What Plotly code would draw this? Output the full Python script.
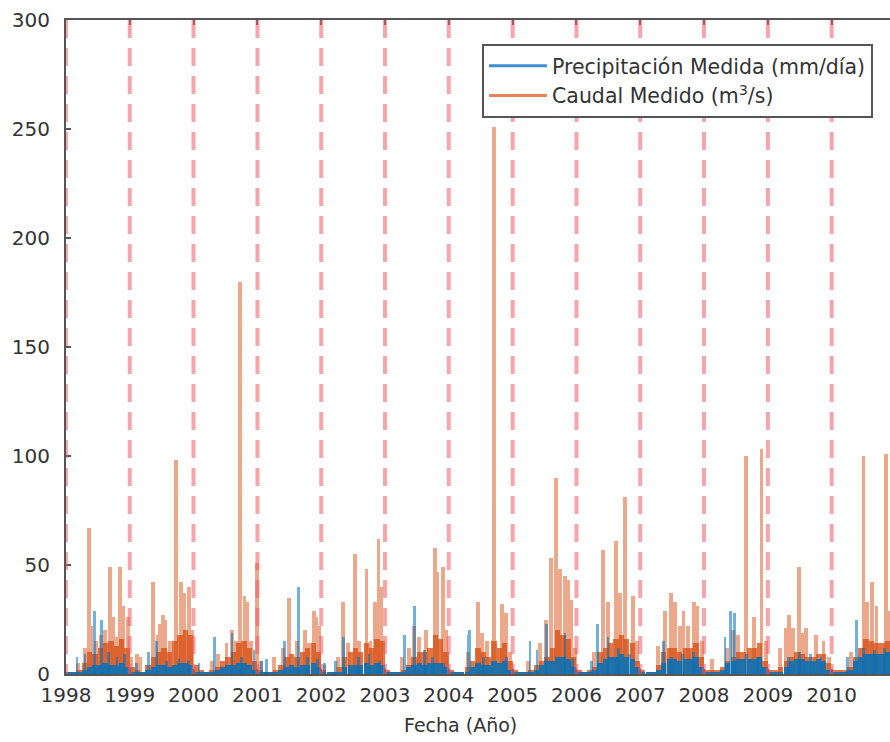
import plotly.graph_objects as go
import pandas as pd

# ---------------- data ----------------
anios = list(range(1998, 2011))
etiquetas_anios = [str(a) for a in anios]

# Caudal medido (m3/s): picos diarios destacados
caudal_pico_fechas = [
    "1998-03-10", "1998-04-20", "1998-05-15", "1998-05-25", "1998-06-20", "1998-07-20", "1998-08-10",
    "1998-09-10", "1998-09-25", "1998-10-15", "1998-11-06", "1998-11-25", "1998-12-20", "1999-01-10",
    "1999-02-10", "1999-03-01",
    "1999-05-12", "1999-06-10", "1999-06-22", "1999-07-08", "1999-07-25", "1999-08-20", "1999-09-25",
    "1999-10-22", "1999-11-10", "1999-12-05", "1999-12-25",
    "2000-04-15", "2000-05-20", "2000-07-08", "2000-08-08", "2000-08-30", "2000-09-24", "2000-10-19",
    "2000-11-05", "2000-11-25", "2000-12-28", "2001-01-20",
    "2001-04-05", "2001-05-25", "2001-07-01", "2001-08-15", "2001-10-01", "2001-10-25", "2001-11-20",
    "2001-12-05", "2001-12-20", "2002-01-20",
    "2002-04-05", "2002-05-08", "2002-06-01", "2002-07-13", "2002-08-05", "2002-09-17", "2002-10-10",
    "2002-11-03", "2002-11-25", "2002-12-10",
    "2003-04-10", "2003-05-20", "2003-06-15", "2003-07-15", "2003-08-25", "2003-10-12", "2003-10-25",
    "2003-11-28", "2003-12-15",
    "2004-04-20", "2004-06-17", "2004-07-10", "2004-08-05", "2004-09-16", "2004-10-30", "2004-11-25",
    "2004-12-15",
    "2005-04-01", "2005-06-05", "2005-07-10", "2005-08-08", "2005-09-06", "2005-09-28", "2005-10-27",
    "2005-11-15", "2005-12-03", "2005-12-25",
    "2006-04-10", "2006-06-02", "2006-07-02", "2006-08-15", "2006-09-05", "2006-10-05", "2006-11-22",
    "2006-12-15",
    "2007-04-12", "2007-05-22", "2007-06-28", "2007-07-20", "2007-08-15", "2007-09-06", "2007-10-01",
    "2007-11-03", "2007-11-22", "2007-12-20",
    "2008-02-18", "2008-05-10", "2008-06-15", "2008-07-15", "2008-08-29", "2008-10-12", "2008-11-25",
    "2008-12-20",
    "2009-03-10", "2009-04-12", "2009-05-01", "2009-05-26", "2009-06-28", "2009-07-20", "2009-08-08",
    "2009-10-01", "2009-11-15", "2009-12-15",
    "2010-04-20", "2010-07-02", "2010-07-20", "2010-08-22", "2010-09-15", "2010-11-06", "2010-11-25",
]
caudal_pico_valores = [
    5, 12, 67, 22, 15, 18, 20,
    49, 26, 17, 49, 31, 26, 8,
    9, 8,
    42, 18, 23, 27, 25, 15, 98,
    42, 37, 40, 20,
    6, 9, 14, 20, 15, 180, 36,
    33, 15, 51, 6,
    8, 12, 35, 15, 20, 14, 29,
    26, 22, 4,
    8, 33, 14, 55, 15, 48, 15,
    33, 62, 40,
    8, 12, 22, 17, 20, 58, 47,
    49, 20,
    10, 33, 19, 15, 251, 32, 28,
    10,
    6, 14, 25, 53, 90, 48, 45,
    43, 34, 12,
    10, 57, 33, 61, 37, 81, 36,
    15,
    13, 29, 37, 33, 22, 29, 22,
    33, 31, 15,
    7, 12, 20, 18, 100, 26, 103,
    15,
    12, 21, 27, 21, 49, 19, 21,
    18, 15, 8,
    10, 100, 33, 42, 31, 101, 29,
]

# Precipitación medida (mm/día): picos diarios destacados
precip_pico_fechas = [
    "1998-03-05", "1998-04-20", "1998-06-15", "1998-07-25", "1998-09-01", "1998-10-20", "1998-12-01",
    "1999-02-10", "1999-04-20", "1999-06-03", "1999-08-01", "1999-10-10", "1999-12-01",
    "2000-02-01", "2000-04-28", "2000-08-08", "2000-10-01", "2000-12-12",
    "2001-01-25", "2001-02-20", "2001-06-05", "2001-08-25", "2001-10-15", "2001-12-10",
    "2002-01-20", "2002-03-25", "2002-05-08", "2002-08-01", "2002-10-01", "2002-12-01",
    "2003-04-22", "2003-06-20", "2003-08-15", "2003-10-01", "2003-12-01",
    "2004-04-20", "2004-05-01", "2004-07-20", "2004-11-25",
    "2005-04-10", "2005-05-20", "2005-07-15", "2005-10-27", "2005-12-10",
    "2006-03-28", "2006-05-01", "2006-07-01", "2006-09-01", "2006-11-01",
    "2007-05-15", "2007-07-01", "2007-09-01", "2007-11-01",
    "2008-05-01", "2008-06-01", "2008-06-22", "2008-09-01", "2008-11-01",
    "2009-05-01", "2009-07-01", "2009-09-01", "2009-11-01",
    "2010-04-01", "2010-05-22", "2010-07-01", "2010-09-01", "2010-11-01",
]
precip_pico_valores = [
    8, 9, 29, 25, 10, 8, 9,
    5, 10, 15, 6, 7, 6,
    5, 17, 19, 8, 11,
    6, 7, 15, 40, 8, 7,
    5, 6, 17, 8, 9, 6,
    18, 31, 11, 8, 5,
    18, 20, 8, 8,
    15, 11, 23, 19, 7,
    6, 23, 17, 12, 9,
    15, 8, 9, 10,
    17, 29, 28, 9, 8,
    8, 10, 9, 8,
    8, 25, 12, 11, 12,
]

# Nivel base mensual (ene..dic de cada año)
caudal_base_mensual = [
    1, 1, 2, 5, 10, 9, 12, 14, 15, 13, 16, 12,   # 1998
    3, 2, 1, 4, 8, 10, 12, 10, 15, 18, 20, 18,   # 1999
    4, 2, 1, 2, 3, 6, 8, 10, 14, 15, 12, 6,      # 2000
    2, 1, 1, 2, 4, 8, 9, 8, 10, 12, 14, 10,      # 2001
    2, 1, 1, 3, 8, 10, 12, 10, 14, 12, 16, 15,   # 2002
    2, 1, 1, 2, 4, 8, 10, 10, 12, 18, 16, 10,    # 2003
    2, 1, 1, 3, 6, 12, 10, 8, 15, 12, 14, 6,     # 2004
    2, 1, 1, 2, 4, 6, 8, 12, 20, 18, 16, 8,      # 2005
    2, 1, 2, 3, 10, 12, 14, 16, 18, 16, 14, 6,   # 2006
    2, 1, 1, 4, 10, 12, 12, 10, 12, 12, 14, 8,   # 2007
    2, 2, 2, 3, 6, 8, 10, 10, 12, 12, 14, 6,     # 2008
    2, 2, 3, 6, 8, 10, 9, 8, 8, 9, 9, 5,         # 2009
    2, 2, 2, 3, 8, 12, 16, 15, 14, 14, 15, 12,   # 2010
]
precip_base_mensual = [
    0.5, 0.5, 1, 2, 3, 4, 4, 5, 4, 4, 5, 3,      # 1998
    1, 0.5, 0.5, 2, 3, 4, 4, 3, 4, 5, 5, 4,      # 1999
    1, 0.5, 0.5, 1, 2, 3, 4, 4, 5, 5, 4, 2,      # 2000
    1, 0.5, 0.5, 1, 2, 3, 4, 3, 4, 4, 5, 3,      # 2001
    1, 0.5, 0.5, 1, 3, 4, 4, 4, 5, 4, 5, 4,      # 2002
    1, 0.5, 0.5, 1, 3, 4, 5, 4, 5, 5, 5, 3,      # 2003
    1, 0.5, 0.5, 1, 3, 5, 4, 4, 6, 5, 6, 2,      # 2004
    1, 0.5, 0.5, 1, 2, 4, 6, 6, 8, 8, 7, 3,      # 2005
    1, 0.5, 1, 2, 5, 7, 8, 8, 9, 8, 7, 3,        # 2006
    1, 0.5, 0.5, 2, 5, 7, 7, 6, 7, 7, 8, 3,      # 2007
    1, 0.5, 1, 2, 5, 6, 7, 7, 7, 7, 8, 3,        # 2008
    1, 0.5, 1, 3, 6, 7, 7, 6, 6, 7, 6, 2,        # 2009
    1, 0.5, 1, 2, 6, 8, 9, 9, 9, 9, 10, 8,       # 2010
]

# ---------------- figure ----------------
DIA_MS = 86400000
AZUL = "#0072BD"
NARANJA = "#D95319"

meses = pd.date_range("1998-01-01", periods=len(caudal_base_mensual), freq="MS") + pd.Timedelta(days=15)

fig = go.Figure()

fig.add_trace(go.Bar(x=meses, y=caudal_base_mensual, width=30 * DIA_MS,
                     marker=dict(color=NARANJA, line_width=0), opacity=0.8, showlegend=False))
fig.add_trace(go.Bar(x=pd.to_datetime(caudal_pico_fechas), y=caudal_pico_valores, width=22 * DIA_MS,
                     marker=dict(color=NARANJA, line_width=0), opacity=0.5, showlegend=False))
fig.add_trace(go.Bar(x=meses, y=precip_base_mensual, width=30 * DIA_MS,
                     marker=dict(color=AZUL, line_width=0), opacity=0.85, showlegend=False))
fig.add_trace(go.Bar(x=pd.to_datetime(precip_pico_fechas), y=precip_pico_valores, width=16 * DIA_MS,
                     marker=dict(color=AZUL, line_width=0), opacity=0.55, showlegend=False))

# legend entries
fig.add_trace(go.Scatter(x=[None], y=[None], mode="lines", line=dict(color="#3d8fd0", width=3),
                         name="Precipitación Medida (mm/día)"))
fig.add_trace(go.Scatter(x=[None], y=[None], mode="lines", line=dict(color="#e8845a", width=3),
                         name="Caudal Medido (m<sup>3</sup>/s)"))

for a in anios:
    fig.add_shape(type="line", xref="x", yref="y",
                  x0=f"{a}-01-01", x1=f"{a}-01-01", y0=300, y1=0,
                  line=dict(color="rgba(240,90,100,0.55)", width=4, dash="18px,10px"),
                  layer="above")

eje = "#555555"
fig.update_layout(
    width=890, height=742,
    margin=dict(l=66, r=0, t=20, b=68),
    plot_bgcolor="white", paper_bgcolor="white",
    barmode="overlay", bargap=0,
    font=dict(family="DejaVu Sans", size=20, color="#333333"),
    legend=dict(x=(482 - 66) / 824, y=1 - (44 - 20) / 654, xanchor="left", yanchor="top",
                bgcolor="white", bordercolor=eje, borderwidth=2, itemwidth=58,
                font=dict(size=20.5, color="#333333"), tracegroupgap=0),
    xaxis=dict(type="date", range=["1998-01-01", "2010-12-01"],
               tickvals=[f"{a}-01-01" for a in anios], ticktext=etiquetas_anios,
               ticks="inside", ticklen=5, tickcolor=eje, tickwidth=1.5,
               showline=True, linecolor=eje, linewidth=2, mirror="ticks",
               showgrid=False, zeroline=False, ticklabelstandoff=2),
    yaxis=dict(range=[0, 300], tickvals=[0, 50, 100, 150, 200, 250, 300],
               ticks="inside", ticklen=5, tickcolor=eje, tickwidth=1.5,
               showline=True, linecolor=eje, linewidth=2, mirror=False,
               showgrid=False, zeroline=False, ticklabelstandoff=10),
)

fig.add_annotation(text="Fecha (Año)", xref="paper", yref="paper",
                   x=(460 - 66) / 824, y=-(725 - 674) / 654, xanchor="center", yanchor="middle",
                   showarrow=False, font=dict(size=19, color="#333333"))

fig.write_html("out.html")
